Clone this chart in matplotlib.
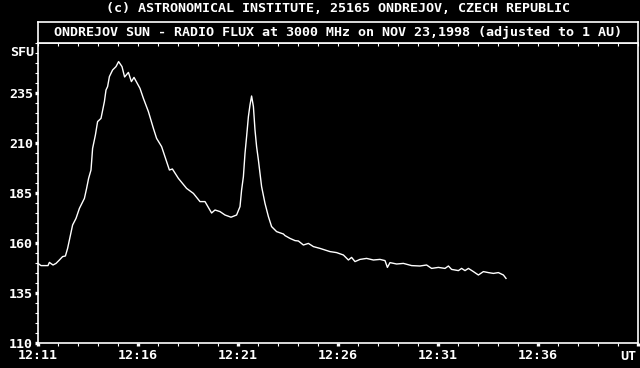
import matplotlib
matplotlib.use("Agg")
import matplotlib.pyplot as plt

# minutes after 12:11 UT
t_min = [0.0, 0.15, 0.5, 0.57, 0.75, 0.9, 1.07, 1.23, 1.37, 1.48, 1.57, 1.73, 1.9,
         2.07, 2.32, 2.43, 2.53, 2.65, 2.73, 2.87, 2.98, 3.15, 3.32, 3.4, 3.48, 3.57,
         3.73, 3.9, 4.03, 4.2, 4.33, 4.52, 4.67, 4.8, 5.1, 5.27, 5.52, 5.77, 5.93,
         6.18, 6.43, 6.57, 6.72, 7.02, 7.43, 7.77, 8.1, 8.35, 8.68, 8.85, 9.1, 9.35,
         9.65, 9.93, 10.1, 10.18, 10.27, 10.35, 10.43, 10.52, 10.6, 10.68, 10.77,
         10.85, 10.93, 11.02, 11.1, 11.18, 11.35, 11.52, 11.68, 11.93, 12.27, 12.35,
         12.6, 12.85, 13.02, 13.27, 13.52, 13.77, 14.1, 14.35, 14.6, 14.93, 15.27,
         15.52, 15.68, 15.85, 16.1, 16.43, 16.77, 17.1, 17.35, 17.47, 17.6, 17.93,
         18.27, 18.68, 19.1, 19.43, 19.68, 20.02, 20.35, 20.52, 20.68, 21.02, 21.18,
         21.35, 21.52, 21.77, 22.02, 22.27, 22.52, 22.77, 23.02, 23.27, 23.4]
flux = [149.8, 148.7, 148.7, 150.3, 149.0, 149.8, 151.5, 153.2, 153.5, 157.3, 161.5,
        169.0, 172.3, 177.3, 182.3, 187.3, 192.3, 196.5, 207.3, 214.0, 220.7, 222.3,
        230.7, 236.5, 238.2, 243.2, 246.5, 248.2, 250.7, 248.2, 243.0, 245.3, 240.7,
        242.8, 237.3, 232.3, 225.7, 217.3, 212.3, 208.2, 200.7, 196.5, 197.0, 192.3,
        187.3, 184.8, 180.7, 180.7, 175.0, 176.5, 175.7, 174.0, 172.9, 174.0, 178.2,
        186.5, 193.2, 204.8, 213.2, 223.2, 229.0, 233.5, 228.2, 216.5, 208.2, 201.5,
        194.8, 188.2, 179.8, 173.2, 168.2, 165.7, 164.5, 163.7, 162.3, 161.2, 161.0,
        159.0, 159.8, 158.2, 157.3, 156.5, 155.7, 155.2, 154.0, 151.5, 152.8, 150.7,
        151.8, 152.3, 151.5, 151.8, 151.2, 147.8, 150.2, 149.5, 149.8, 148.7, 148.5,
        149.0, 147.3, 147.8, 147.3, 148.5, 146.8, 146.2, 147.3, 146.2, 147.3, 145.7,
        144.0, 145.7, 145.2, 144.8, 145.2, 144.0, 142.3]

x_ticks = [0, 5, 10, 15, 20, 25, 30]
x_labels = ["12:11", "12:16", "12:21", "12:26", "12:31", "12:36", ""]
y_ticks = [110, 135, 160, 185, 210, 235]

FONT = dict(family="DejaVu Sans Mono", fontweight="bold", color="white", fontsize=9.6)
W = 640
H = 368

fig = plt.figure(figsize=(6.4, 3.68), dpi=100, facecolor="black")
ax = fig.add_axes([38 / W, 1 - 343 / H, 600 / W, 300 / H], facecolor="black")

ax.plot(t_min, flux, color="white", lw=1.0)
ax.set_xlim(0, 30)
ax.set_ylim(110, 260)

for s in ax.spines.values():
    s.set_color("white")
    s.set_linewidth(1.2)

ax.set_xticks(x_ticks)
ax.set_xticklabels(x_labels)
ax.set_xticks(range(0, 31), minor=True)
ax.set_yticks(y_ticks)
ax.set_yticks(range(110, 261, 5), minor=True)
ax.tick_params(which="major", direction="out", colors="white", length=2.5, width=2.4,
               pad=2)
ax.tick_params(which="minor", direction="out", colors="white", length=2.0, width=0.8)
ax.tick_params(axis="y", pad=1)
for lab in ax.get_xticklabels() + ax.get_yticklabels():
    lab.set_fontfamily("DejaVu Sans Mono")
    lab.set_fontweight("bold")
    lab.set_fontsize(9.6)
    lab.set_color("white")

# inward minute ticks along the top frame
top = ax.twiny()
top.set_xlim(ax.get_xlim())
top.set_xticks(range(0, 31))
top.set_xticklabels([])
top.tick_params(direction="in", colors="white", length=2.5, width=0.8)
for s in top.spines.values():
    s.set_visible(False)

ax.text(-0.007, 255.5, "SFU", ha="right", va="center", transform=ax.get_yaxis_transform(),
        **FONT)
ax.text(0.997, -0.022, "UT", ha="right", va="top", transform=ax.transAxes, **FONT)

# title box
tb = fig.add_axes([38 / W, 1 - 43 / H, 600 / W, 21 / H], facecolor="black")
tb.set_xticks([])
tb.set_yticks([])
for s in tb.spines.values():
    s.set_color("white")
    s.set_linewidth(1.2)
tb.text(0.5, 0.5, "ONDREJOV SUN - RADIO FLUX at 3000 MHz on NOV 23,1998 (adjusted to 1 AU)",
        ha="center", va="center", transform=tb.transAxes, **FONT)

fig.text(338 / W, 1 - 9 / H, "(c) ASTRONOMICAL INSTITUTE, 25165 ONDREJOV, CZECH REPUBLIC",
         ha="center", va="center", **FONT)

fig.savefig("out.png", dpi=100, facecolor="black")
